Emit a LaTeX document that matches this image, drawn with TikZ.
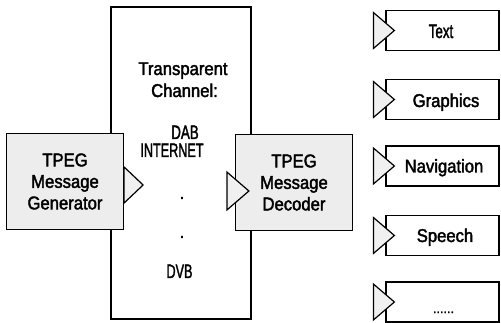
\documentclass[tikz,border=0pt]{standalone}
\usepackage{fontspec}
\setmainfont{Liberation Sans}[FakeStretch=0.9,FakeBold=2]
\newcommand{\narrowtxt}[2]{\scalebox{#1}[1]{#2}}
\definecolor{boxfill}{gray}{0.93}
\definecolor{trifill}{gray}{0.94}
\begin{document}
\begin{tikzpicture}[x=1pt,y=-1pt,line width=1.2pt,
  box/.style={draw=black,rectangle,inner sep=0pt},
  mainbox/.style={box,fill=boxfill,minimum width=117pt,minimum height=96pt,align=center,
     font=\fontsize{18.5}{21.5}\selectfont},
  outbox/.style={box,fill=white,minimum width=113pt,minimum height=40pt},
  tri/.style={draw=black,fill=trifill,line join=miter},
  lbl/.style={anchor=base,inner sep=0pt,font=\fontsize{18.5}{21.5}\selectfont},
  nlbl/.style={anchor=base,inner sep=0pt,font=\fontsize{19.5}{22}\selectfont}]
\useasboundingbox (0,0) rectangle (501,323);
% channel
\node[box,minimum width=140pt,minimum height=312pt] (chan) at (181,163) {};
\node[lbl] (ltrans) at (183,75) {Transparent};
\node[lbl] (lchan) at (184.5,97) {Channel:};
\node[nlbl] (ldab) at (185,139) {\narrowtxt{0.76}{DAB}};
\node[nlbl] (lint) at (172,157) {\narrowtxt{0.72}{INTERNET}};
\node[lbl] (ldot1) at (182,199) {.};
\node[lbl] (ldot2) at (182,238) {.};
\node[nlbl] (ldvb) at (179.5,278) {\narrowtxt{0.72}{DVB}};
% generator and decoder
\node[mainbox] (gen) at (65,181.5) {TPEG\\Message\\Generator};
\node[mainbox] (dec) at (294,182.5) {TPEG\\Message\\Decoder};
\draw[tri] ([yshift=14.5pt]gen.east) -- ([xshift=19pt,yshift=-3.5pt]gen.east) -- ([yshift=-21.5pt]gen.east) -- cycle;
\draw[tri] ([xshift=-8pt,yshift=10.5pt]dec.west) -- ([xshift=14pt,yshift=-8.5pt]dec.west) -- ([xshift=-8pt,yshift=-27.5pt]dec.west) -- cycle;
% output boxes
\foreach \n/\yy in {otext/30.5,ographics/99.5,onav/166,ospeech/235.5,omore/302}{
  \node[outbox] (\n) at (442.5,\yy) {};
  \draw[tri] ([xshift=-12pt,yshift=18pt]\n.west) -- ([xshift=9pt]\n.west) -- ([xshift=-12pt,yshift=-18pt]\n.west) -- cycle;
}
\node[nlbl] (ltext) at (441,38) {\narrowtxt{0.76}{Text}};
\node[lbl] (lgraph) at (446,107) {Graphics};
\node[lbl] (lnav) at (444,172.5) {Navigation};
\node[lbl] (lspeech) at (445,242) {Speech};
\node[lbl,font=\fontsize{14}{16}\selectfont] (lmore) at (443.5,313) {......};
\end{tikzpicture}
\end{document}
